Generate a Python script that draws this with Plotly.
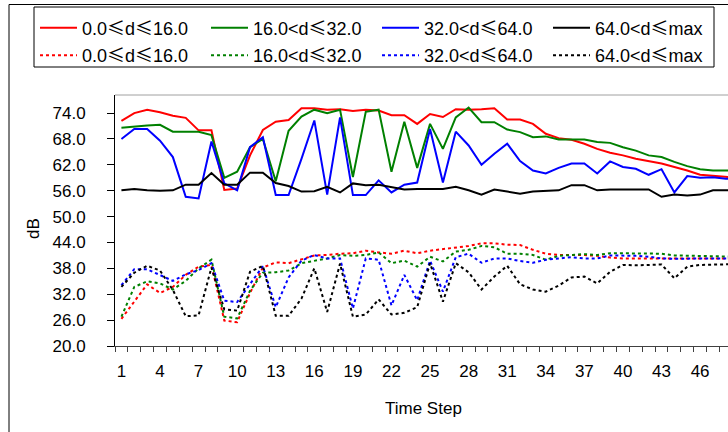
import plotly.graph_objects as go

time_step = list(range(1, 50))

names = ["0.0≤d≤16.0", "16.0<d≤32.0", "32.0<d≤64.0", "64.0<d≤max"]
colors = ["#FF0000", "#008000", "#0000FF", "#000000"]

red_solid = [72.2, 74.0, 74.8, 74.2, 73.4, 72.9, 70.0, 70.0, 56.2, 56.5,
             64.2, 70.1, 72.0, 72.4, 75.1, 75.1, 74.8, 74.9, 74.5, 74.8,
             74.6, 73.5, 73.5, 71.5, 73.8, 73.1, 74.9, 74.8, 74.9, 75.1,
             72.5, 72.5, 71.5, 69.2, 68.2, 67.8, 66.9, 65.7, 64.8, 64.2,
             63.4, 62.8, 62.3, 61.5, 60.7, 59.7, 59.4, 59.1, 59.0]
green_solid = [70.6, 70.9, 71.1, 71.3, 69.7, 69.7, 69.7, 68.9, 59.0, 60.4,
               66.1, 68.0, 58.2, 69.9, 73.2, 74.8, 74.0, 74.8, 59.2, 74.3,
               74.8, 60.4, 72.0, 61.3, 71.5, 65.7, 73.0, 75.3, 71.9, 71.9,
               70.2, 69.6, 68.4, 68.6, 67.9, 67.9, 67.9, 67.3, 67.1, 66.1,
               65.3, 64.2, 63.8, 62.7, 61.7, 61.0, 60.7, 60.7, 60.7]
blue_solid = [68.0, 70.3, 70.3, 67.6, 63.8, 54.6, 54.2, 67.4, 57.7, 56.1,
              66.1, 68.4, 55.0, 55.0, 63.4, 72.3, 55.1, 73.0, 55.0, 55.0,
              58.4, 55.6, 57.4, 57.9, 70.3, 57.9, 69.7, 66.5, 62.0, 64.6,
              66.9, 62.9, 60.7, 60.0, 61.3, 62.3, 62.3, 60.0, 62.8, 61.5,
              61.1, 59.7, 61.0, 55.6, 59.4, 59.0, 59.1, 58.8, 58.8]
black_solid = [56.1, 56.4, 56.1, 56.0, 56.1, 57.4, 57.4, 60.1, 57.4, 57.4,
               60.2, 60.2, 57.8, 57.1, 55.8, 55.9, 56.9, 55.6, 57.7, 57.3,
               57.4, 56.9, 56.3, 56.4, 56.4, 56.4, 56.9, 56.1, 55.1, 56.3,
               55.8, 55.3, 55.8, 55.9, 56.1, 57.3, 57.3, 56.1, 56.3, 56.3,
               56.3, 56.3, 54.6, 55.1, 54.9, 55.1, 56.1, 56.1, 56.1]

red_dotted = [26.3, 30.4, 34.3, 32.3, 33.7, 36.5, 38.4, 38.8, 25.9, 25.5,
              32.3, 38.2, 39.4, 39.2, 40.1, 41.0, 41.1, 41.4, 41.5, 42.1,
              41.7, 41.4, 42.1, 41.5, 42.1, 42.5, 42.9, 43.2, 43.8, 43.8,
              43.5, 43.4, 42.3, 41.4, 41.1, 41.1, 41.1, 40.9, 40.5, 40.3,
              40.3, 40.3, 40.3, 40.3, 40.3, 40.3, 40.3, 40.3, 40.3]
green_dotted = [26.8, 33.7, 35.0, 34.5, 33.1, 35.1, 38.0, 40.0, 26.8, 26.4,
                32.8, 37.0, 37.1, 37.5, 39.2, 39.8, 40.3, 41.1, 40.9, 41.1,
                41.7, 39.2, 39.8, 38.4, 40.7, 39.6, 41.9, 42.3, 43.2, 42.9,
                41.4, 41.4, 41.1, 40.0, 40.9, 41.1, 41.3, 41.1, 41.5, 41.5,
                41.5, 41.4, 41.4, 41.0, 40.9, 40.9, 40.7, 40.7, 40.7]
blue_dotted = [34.1, 37.8, 37.8, 36.4, 35.1, 36.6, 37.6, 39.2, 30.5, 30.2,
               34.5, 38.5, 29.0, 35.9, 39.8, 41.1, 40.3, 40.3, 28.7, 40.3,
               40.0, 29.4, 36.5, 30.6, 39.8, 32.6, 40.6, 41.4, 39.3, 40.3,
               40.3, 39.7, 39.3, 40.0, 40.3, 40.6, 40.3, 40.3, 41.0, 41.0,
               40.9, 40.7, 40.3, 40.2, 40.3, 40.3, 40.3, 40.3, 40.3]
black_dotted = [33.7, 37.0, 38.6, 37.5, 33.0, 26.9, 27.1, 38.2, 28.5, 28.2,
                37.2, 38.6, 27.0, 27.0, 31.0, 38.0, 27.9, 39.1, 26.8, 27.3,
                30.8, 27.3, 27.7, 29.0, 39.2, 30.3, 39.2, 37.1, 33.1, 36.1,
                38.6, 34.3, 33.1, 32.6, 34.0, 35.9, 36.1, 34.5, 37.2, 38.8,
                38.7, 38.8, 38.9, 35.7, 38.4, 38.8, 38.9, 39.0, 39.0]

y_ticks = [20, 26, 32, 38, 44, 50, 56, 62, 68, 74]
x_ticks = list(range(1, 47, 3))

solid = [red_solid, green_solid, blue_solid, black_solid]
dotted = [red_dotted, green_dotted, blue_dotted, black_dotted]

FONT = "Liberation Sans, Arial, sans-serif"
LE = "<span style=\"font-family:'Noto Sans CJK SC'\">≤</span>"

def legend_label(name):
    return name.replace("≤", LE)

fig = go.Figure()
for name, col, ys in zip(names, colors, solid):
    fig.add_trace(go.Scatter(x=time_step, y=ys, mode="lines", name=legend_label(name),
                             line=dict(color=col, width=2), legend="legend"))
for name, col, ys in zip(names, colors, dotted):
    fig.add_trace(go.Scatter(x=time_step, y=ys, mode="lines", name=legend_label(name),
                             line=dict(color=col, width=2, dash="3px,3px"),
                             legend="legend2"))

# geometry helpers (pixel -> paper)
L, T, B, W, H = 115, 95, 86, 728, 432
pw = W - L
ph = H - T - B
def px(x):
    return (x - L) / pw
def py(y):
    return (H - B - y) / ph

legend_common = dict(orientation="h", xanchor="left", yanchor="middle",
                     entrywidth=119, entrywidthmode="pixels", itemwidth=37,
                     bgcolor="rgba(0,0,0,0)", borderwidth=0,
                     font=dict(family=FONT, size=18, color="black"))

fig.update_layout(
    width=W, height=H,
    margin=dict(l=L, r=0, t=T, b=B, autoexpand=False),
    paper_bgcolor="white", plot_bgcolor="white",
    font=dict(family=FONT, size=17, color="black"),
    legend=dict(x=px(35), y=py(28), **legend_common),
    legend2=dict(x=px(35), y=py(55.5), **legend_common),
    xaxis=dict(range=[0.5, 48.17], tickmode="array", tickvals=x_ticks,
               ticktext=[str(v) for v in x_ticks], ticks="", showgrid=False,
               zeroline=False, showline=True, linecolor="#404040", linewidth=1,
               automargin=False, ticklabelstandoff=10,
               minor=dict(tickmode="linear", tick0=0.5, dtick=1, ticks="outside",
                          ticklen=5, tickcolor="#404040", tickwidth=1, showgrid=False)),
    yaxis=dict(range=[20, 78.2], tickmode="array", tickvals=y_ticks,
               ticktext=[f"{v:.1f}" for v in y_ticks], ticks="outside",
               ticklen=7, tickwidth=1, tickcolor="black", showgrid=False,
               zeroline=False, showline=True, linecolor="black", linewidth=1,
               automargin=False, ticklabelstandoff=18),
    annotations=[
        dict(text="Time Step", xref="paper", yref="paper", x=px(423), y=py(408),
             xanchor="center", yanchor="middle", showarrow=False,
             font=dict(family=FONT, size=17)),
        dict(text="dB", xref="paper", yref="paper", x=px(33), y=py(229),
             xanchor="center", yanchor="middle", showarrow=False, textangle=-90,
             font=dict(family=FONT, size=17)),
    ],
    shapes=[
        # legend box
        dict(type="rect", xref="paper", yref="paper", x0=px(34), x1=px(714),
             y0=py(67), y1=py(7), line=dict(color="black", width=1),
             fillcolor="white", layer="below"),
        # outer chart frame (left and top)
        dict(type="line", xref="paper", yref="paper", x0=px(9), x1=px(9),
             y0=py(440), y1=py(4.5), line=dict(color="black", width=1)),
        dict(type="line", xref="paper", yref="paper", x0=px(9), x1=px(740),
             y0=py(4.5), y1=py(4.5), line=dict(color="black", width=1)),
        # plot-area top border
        dict(type="line", xref="paper", yref="paper", x0=0, x1=1.05,
             y0=1, y1=1, line=dict(color="#A0A0A0", width=1)),
    ],
)

fig.write_html("out.html", config={"displayModeBar": False},
               post_script="document.body.style.margin='0';")
